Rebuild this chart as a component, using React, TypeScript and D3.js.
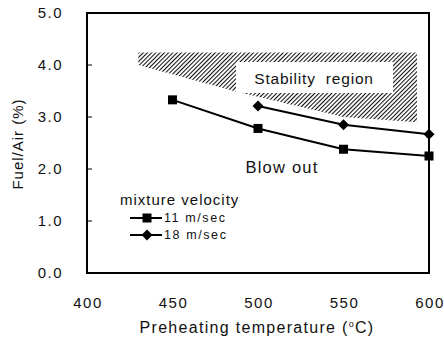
import React from "react";
import * as d3 from "d3";

const temps11 = [450, 500, 550, 600];
const values11 = [3.33, 2.78, 2.38, 2.25];
const temps18 = [500, 550, 600];
const values18 = [3.21, 2.85, 2.67];
const regionTemps = [430, 593, 593, 550, 505, 488, 430];
const regionValues = [4.24, 4.24, 2.9, 3.0, 3.35, 3.48, 4.0];
const xTicks = [400, 450, 500, 550, 600];
const yTicks = [0, 1, 2, 3, 4, 5];
const seriesLabels = ["11 m/sec", "18 m/sec"];

const W = 444, H = 346;
const L = 87, R = 429, T = 13, B = 273;

export default function App() {
  const x = d3.scaleLinear().domain([400, 600]).range([L, R]);
  const y = d3.scaleLinear().domain([0, 5]).range([B, T]);
  const line = d3.line<[number, number]>().x(d => x(d[0])).y(d => y(d[1]));
  const pts11 = temps11.map((t, i) => [t, values11[i]] as [number, number]);
  const pts18 = temps18.map((t, i) => [t, values18[i]] as [number, number]);
  const region = regionTemps.map((t, i) => [t, regionValues[i]] as [number, number]);
  const font = "Arial, 'Liberation Sans', sans-serif";
  const sq = 9, dm = 5.5;
  const diamond = (cx: number, cy: number) =>
    `M${cx},${cy - dm}L${cx + dm},${cy}L${cx},${cy + dm}L${cx - dm},${cy}Z`;

  const legY1 = 218, legY2 = 235, legX1 = 130, legX2 = 162;

  return (
    <svg width={W} height={H} style={{ position: "absolute", left: 0, top: 0, background: "#fff" }} fontFamily={font}>
      <defs>
        <pattern id="hatch" width="3" height="3" patternUnits="userSpaceOnUse" patternTransform="rotate(45)">
          <line x1="0.5" y1="0" x2="0.5" y2="3" stroke="#111" strokeWidth="1.1" />
        </pattern>
      </defs>
      <rect x={0} y={0} width={W} height={H} fill="#fff" />
      <path d={line(region)! + "Z"} fill="url(#hatch)" stroke="none" />
      <rect x={236} y={62} width={157} height={31} fill="#fff" />
      <text x={314} y={84} textAnchor="middle" fontSize={15.5} letterSpacing={0.8} wordSpacing={5} fill="#111">
        Stability region
      </text>
      <text x={282} y={173} textAnchor="middle" fontSize={16.5} letterSpacing={1.2} fill="#111">Blow out</text>

      <rect x={L} y={T} width={R - L} height={B - T} fill="none" stroke="#000" strokeWidth={2} />
      {yTicks.map(v => (
        <g key={v}>
          <line x1={L} x2={L + 5} y1={y(v)} y2={y(v)} stroke="#000" strokeWidth={1} />
          <text x={63} y={y(v) + 5} textAnchor="end" fontSize={15} letterSpacing={1.5} fill="#111">{v.toFixed(1)}</text>
        </g>
      ))}
      {xTicks.map(v => (
        <text key={v} x={x(v) + 1} y={308} textAnchor="middle" fontSize={15} letterSpacing={1.5} fill="#111">{v}</text>
      ))}
      <text x={257} y={333} textAnchor="middle" fontSize={16} letterSpacing={1.3} fill="#111">
        Preheating temperature (<tspan fontSize={9} dy={-6}>o</tspan><tspan dy={6}>C)</tspan>
      </text>
      <text transform={`translate(23,144) rotate(-90)`} textAnchor="middle" fontSize={15} letterSpacing={1} fill="#111">
        Fuel/Air (%)
      </text>

      <path d={line(pts11)!} fill="none" stroke="#000" strokeWidth={2} />
      <path d={line(pts18)!} fill="none" stroke="#000" strokeWidth={2} />
      {pts11.map((p, i) => (
        <rect key={i} x={x(p[0]) - sq / 2} y={y(p[1]) - sq / 2} width={sq} height={sq} fill="#000" />
      ))}
      {pts18.map((p, i) => (
        <path key={i} d={diamond(x(p[0]), y(p[1]))} fill="#000" />
      ))}

      <text x={120} y={205} fontSize={15} letterSpacing={1} fill="#111">mixture velocity</text>
      <line x1={legX1} x2={legX2} y1={legY1} y2={legY1} stroke="#000" strokeWidth={2} />
      <rect x={(legX1 + legX2) / 2 - sq / 2 + 1} y={legY1 - sq / 2} width={sq} height={sq} fill="#000" />
      <text x={164} y={legY1 + 4} fontSize={12.5} letterSpacing={1.6} fill="#111">{seriesLabels[0]}</text>
      <line x1={legX1} x2={legX2} y1={legY2} y2={legY2} stroke="#000" strokeWidth={2} />
      <path d={diamond((legX1 + legX2) / 2 + 1, legY2)} fill="#000" />
      <text x={164} y={legY2 + 4} fontSize={12.5} letterSpacing={1.6} fill="#111">{seriesLabels[1]}</text>
    </svg>
  );
}
